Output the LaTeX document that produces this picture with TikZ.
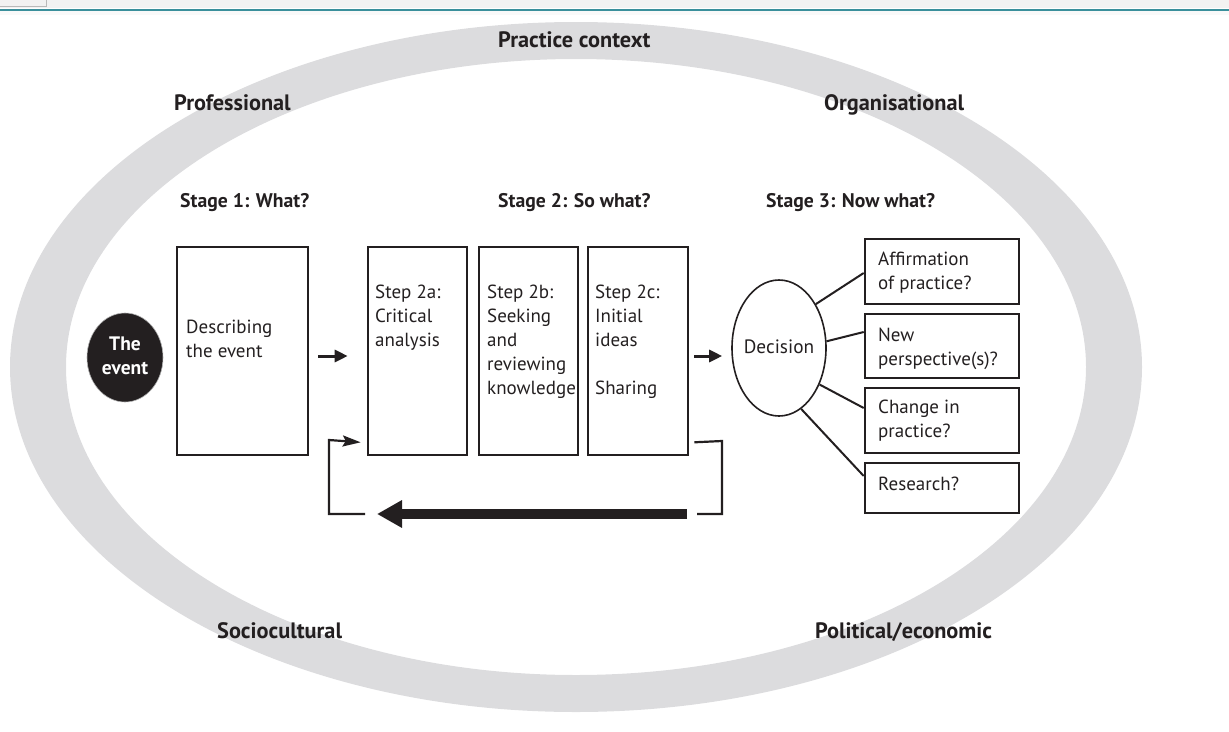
\documentclass[tikz,border=0pt]{standalone}
\usepackage{fontspec}
\setmainfont{PT Sans}
\usetikzlibrary{arrows.meta,calc,shapes.geometric}
\definecolor{ringgrey}{HTML}{DCDCDE}
\definecolor{ink}{HTML}{231F20}
\definecolor{tealline}{HTML}{3A8F9B}
\begin{document}
\begin{tikzpicture}[x=1pt,y=-1pt,
  biglbl/.style={font=\fontsize{22.3}{26}\selectfont\bfseries, text=ink, inner sep=0pt, anchor=base west},
  stagelbl/.style={font=\fontsize{19.7}{24}\selectfont\bfseries, text=ink, inner sep=0pt, anchor=base west},
  txt/.style={font=\fontsize{19}{24}\selectfont, text=ink, inner sep=0pt, anchor=base west, align=left},
  box/.style={draw=ink, line width=2.6pt, inner sep=0pt},
  link/.style={draw=ink, line width=2pt},
  fwd/.style={draw=ink, line width=3pt, -{Triangle[length=13pt,width=12pt]}},
  back/.style={draw=ink, line width=2.2pt, -{Stealth[length=18pt,width=11pt,inset=3pt]}},
  bigback/.style={draw=ink, line width=10pt, -{Triangle[length=25pt,width=26pt]}}]
\useasboundingbox (0,0) rectangle (1229,731);
% window artefact at the top
\fill[gray!10] (0,0) rectangle (1229,8);
\draw[gray!55, line width=1pt] (0,6.5) -- (46,6.5) -- (46,0);
\draw[tealline, line width=2pt] (0,10) -- (1229,10);
\fill[gray!5] (0,11) rectangle (1229,15);
% ring
\fill[ringgrey, even odd rule] (576,367) ellipse [x radius=566pt, y radius=345pt]
  (576,367) ellipse [x radius=510pt, y radius=308pt];
% ring labels
\node[biglbl] (pc) at (498,47) {Practice context};
\node[biglbl] (prof) at (174,110) {Professional};
\node[biglbl] (org) at (824,110) {Organisational};
\node[biglbl] (soc) at (217,638) {Sociocultural};
\node[biglbl] (pol) at (815,638) {Political/economic};
% stage labels
\node[stagelbl] (st1) at (180,207) {Stage 1: What?};
\node[stagelbl] (st2) at (498,207) {Stage 2: So what?};
\node[stagelbl] (st3) at (766,207) {Stage 3: Now what?};
% the event
\node[ellipse, fill=ink, draw=gray!60, line width=0.6pt, minimum width=76pt, minimum height=89pt, inner sep=0pt] (ev) at (125,357.5) {};
\node[font=\fontsize{19.5}{24}\selectfont\bfseries, text=white, align=center, inner sep=0pt] (evt) at (125,356) {The\\event};
% boxes
\node[box, minimum width=131pt, minimum height=208pt] (desc) at (242.5,351) {};
\node[box, minimum width=99pt, minimum height=208pt] (s2a) at (417.5,351) {};
\node[box, minimum width=99pt, minimum height=208pt] (s2b) at (528.5,351) {};
\node[box, minimum width=100pt, minimum height=208pt] (s2c) at (638,351) {};
\node[txt] (desct) at (186,357) {Describing\\the event};
\node[txt] (s2at) at (375,346) {Step 2a:\\Critical\\analysis};
\node[txt] (s2bt) at (487,394) {Step 2b:\\Seeking\\and\\reviewing\\knowledge};
\node[txt] (s2ct) at (595,394) {Step 2c:\\Initial\\ideas\\[24pt]Sharing};
% decision
\node[ellipse, draw=ink, line width=1.6pt, minimum width=94pt, minimum height=136pt, inner sep=0pt] (dec) at (779,348) {};
\node[font=\fontsize{19.3}{24}\selectfont, text=ink, inner sep=0pt, anchor=base] (dect) at (779,353) {Decision};
% outcome boxes
\node[box, minimum width=154pt, minimum height=65pt] (b1) at (942,271.5) {};
\node[box, minimum width=154pt, minimum height=64pt] (b2) at (942,346) {};
\node[box, minimum width=154pt, minimum height=65pt] (b3) at (942,420.5) {};
\node[box, minimum width=154pt, minimum height=50pt] (b4) at (942,488) {};
\node[txt] (b1t) at (878,289) {Affirmation\\of practice?};
\node[txt] (b2t) at (878,365) {New\\perspective(s)?};
\node[txt] (b3t) at (878,437) {Change in\\practice?};
\node[txt] (b4t) at (878,490) {Research?};
% links decision -> outcomes
\draw[link] (dec.50) -- ($(b1.west)+(0,1.5)$);
\draw[link] (dec.8) -- ($(b2.west)+(0,-14)$);
\draw[link] (dec.-42) -- ($(b3.west)+(0,-12.5)$);
\draw[link] (dec.-70) -- ($(b4.west)+(0,-12)$);
% forward arrows
\draw[fwd] ($(desc.east)+(9,5)$) -- ($(s2a.west)+(-19,5)$);
\draw[fwd] ($(s2c.east)+(5,5)$) -- ($(dec.west)+(-9,8)$);
% feedback loop
\coordinate (r0) at ($(s2c.south east)+(5,-14)$);
\coordinate (r1) at (722,441);
\coordinate (r2) at (722,514);
\coordinate (r3) at (697,514);
\coordinate (t0) at (687,514);
\coordinate (t1) at (377,514);
\coordinate (l0) at (365,514);
\coordinate (l1) at (329,514);
\coordinate (l2) at (329,440);
\coordinate (l3) at ($(s2a.south west)+(-6,-14)$);
\draw[link, line width=2.2pt] (r0) -- (r1) -- (r2) -- (r3);
\draw[bigback] (t0) -- (t1);
\draw[back] (l0) -- (l1) -- (l2) -- (l3);
\end{tikzpicture}
\end{document}
